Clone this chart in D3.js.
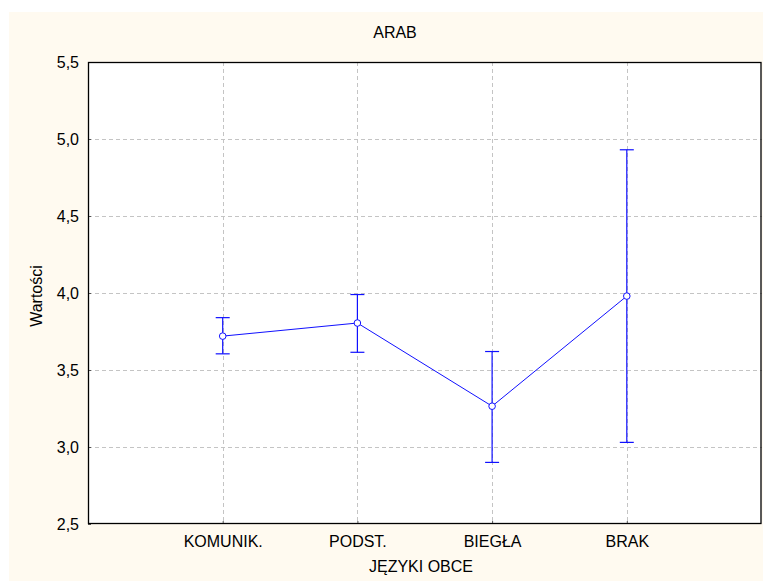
<!DOCTYPE html>
<html>
<head>
<meta charset="utf-8">
<script src="https://cdn.jsdelivr.net/npm/d3@7"></script>
<style>
  body { margin: 0; background: #fff; }
  svg { display: block; font-family: "Liberation Sans", Arial, sans-serif; }
</style>
</head>
<body>
<div id="chart"></div>
<script>
// data
const categories = ["KOMUNIK.", "PODST.", "BIEGŁA", "BRAK"];
const means = [3.72, 3.805, 3.265, 3.98];
const upper = [3.84, 3.99, 3.62, 4.93];
const lower = [3.605, 3.615, 2.90, 3.03];
const yTicks = [2.5, 3.0, 3.5, 4.0, 4.5, 5.0, 5.5];

const width = 763, height = 581;
const plot = { left: 88, top: 62, right: 761.5, bottom: 524 };
const fontSize = 16;

const svg = d3.select("#chart").append("svg")
  .attr("width", width)
  .attr("height", height);

// cream background
svg.append("rect")
  .attr("x", 9).attr("y", 12)
  .attr("width", width - 9).attr("height", height - 12)
  .attr("fill", "#fffaf0");

svg.append("rect")
  .attr("x", plot.left).attr("y", plot.top)
  .attr("width", plot.right - plot.left).attr("height", plot.bottom - plot.top)
  .attr("fill", "#fff");

const x = d3.scalePoint()
  .domain(["", ...categories, " "])
  .range([plot.left, plot.right]);

const y = d3.scaleLinear()
  .domain([2.5, 5.5])
  .range([plot.bottom, plot.top]);

const fmt = d => d3.format(".1f")(d).replace(".", ",");

// grid
const grid = svg.append("g")
  .attr("stroke", "#c4c4c4")
  .attr("stroke-dasharray", "4,3")
  .attr("shape-rendering", "crispEdges");

grid.selectAll(".gy")
  .data(yTicks.slice(1, -1))
  .join("line")
    .attr("x1", plot.left).attr("x2", plot.right)
    .attr("y1", d => Math.round(y(d)) + 0.5)
    .attr("y2", d => Math.round(y(d)) + 0.5);

grid.selectAll(".gx")
  .data(categories)
  .join("line")
    .attr("x1", d => Math.round(x(d)) + 0.5)
    .attr("x2", d => Math.round(x(d)) + 0.5)
    .attr("y1", plot.top).attr("y2", plot.bottom);

// axes
const yAxis = svg.append("g")
  .attr("transform", `translate(${plot.left},0)`)
  .call(d3.axisLeft(y).tickValues(yTicks).tickFormat(fmt).tickSize(-3).tickPadding(9));
yAxis.select(".domain").remove();
yAxis.attr("font-size", fontSize).attr("font-family", "Liberation Sans, Arial, sans-serif");
yAxis.selectAll("text").attr("fill", "#000");
yAxis.selectAll("line").attr("stroke", "#555");

const xAxis = svg.append("g")
  .attr("transform", `translate(0,${plot.bottom})`)
  .call(d3.axisBottom(x).tickValues(categories).tickSize(-3).tickPadding(12));
xAxis.select(".domain").remove();
xAxis.attr("font-size", fontSize).attr("font-family", "Liberation Sans, Arial, sans-serif");
xAxis.selectAll("text").attr("fill", "#000");
xAxis.selectAll("line").attr("stroke", "#555");

// frame
svg.append("rect")
  .attr("x", plot.left + 0.5).attr("y", plot.top + 0.5)
  .attr("width", plot.right - plot.left - 1).attr("height", plot.bottom - plot.top - 1)
  .attr("fill", "none").attr("stroke", "#000").attr("stroke-width", 1.3);

// series
const rows = categories.map((c, i) => ({ c, m: means[i], hi: upper[i], lo: lower[i] }));
const blue = "#1010ff";

const bars = svg.append("g").attr("stroke", blue).attr("stroke-width", 1.2);
bars.selectAll(".v").data(rows).join("line")
  .attr("x1", d => x(d.c)).attr("x2", d => x(d.c))
  .attr("y1", d => y(d.hi)).attr("y2", d => y(d.lo));
bars.selectAll(".t").data(rows).join("line")
  .attr("x1", d => x(d.c) - 7).attr("x2", d => x(d.c) + 7)
  .attr("y1", d => y(d.hi)).attr("y2", d => y(d.hi));
bars.selectAll(".b").data(rows).join("line")
  .attr("x1", d => x(d.c) - 7).attr("x2", d => x(d.c) + 7)
  .attr("y1", d => y(d.lo)).attr("y2", d => y(d.lo));

svg.append("path")
  .datum(rows)
  .attr("fill", "none").attr("stroke", blue).attr("stroke-width", 1)
  .attr("d", d3.line().x(d => x(d.c)).y(d => y(d.m)));

svg.selectAll(".pt").data(rows).join("circle")
  .attr("cx", d => x(d.c)).attr("cy", d => y(d.m))
  .attr("r", 3.3)
  .attr("fill", "#fff").attr("stroke", blue).attr("stroke-width", 1);

// titles
const titles = svg.append("g").attr("font-size", fontSize).attr("text-anchor", "middle");

titles.append("text")
  .attr("x", 395).attr("y", 38)
  .text("ARAB");

titles.append("text")
  .attr("x", 421).attr("y", 572)
  .text("JĘZYKI OBCE");

titles.append("text")
  .attr("transform", "translate(42,296) rotate(-90)")
  .text("Wartości");
</script>
</body>
</html>
